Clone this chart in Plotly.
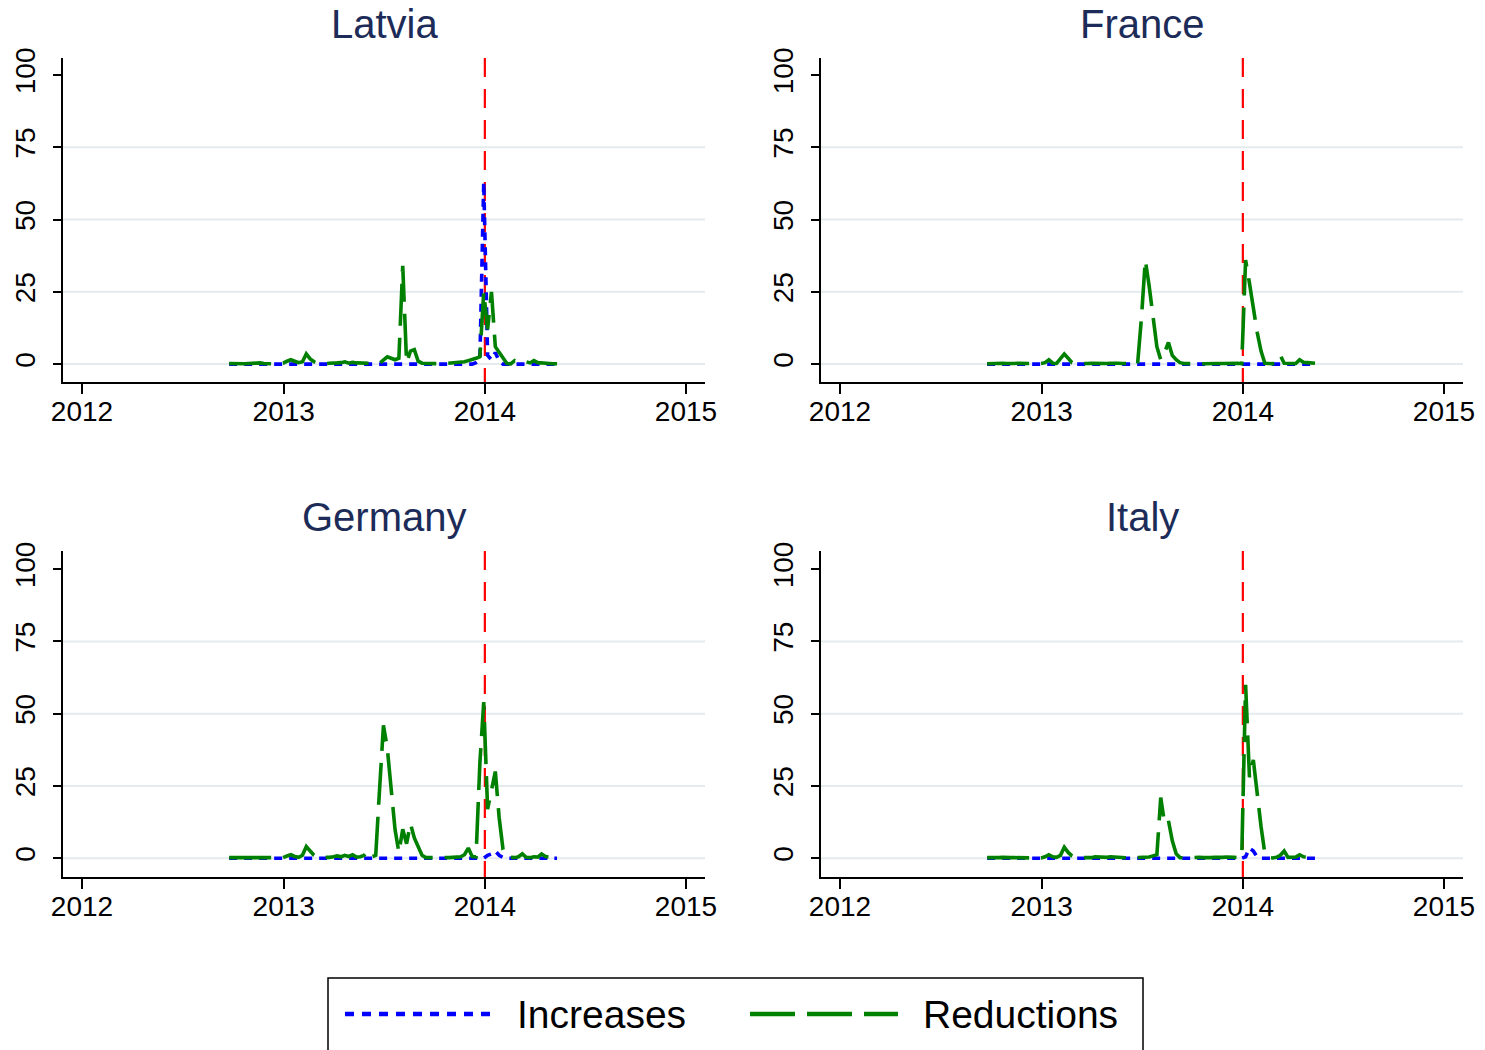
import pandas as pd
import plotly.graph_objects as go

# ---------------- data ----------------
dates = pd.date_range("2012-09-24", periods=86, freq="7D")

countries = ["Latvia", "France", "Germany", "Italy"]

latvia_increases = [
    0, 0, 0, 0, 0, 0, 0, 0, 0, 0,
    0, 0, 0, 0, 0, 0, 0, 0, 0, 0,
    0, 0, 0, 0, 0, 0, 0, 0, 0, 0,
    0, 0, 0, 0, 0, 0, 0, 0, 0, 0,
    0, 0, 0, 0, 0, 0, 0, 0, 0, 0,
    0, 0, 0, 0, 0, 0, 0, 0, 0, 0,
    0, 0, 0, 0, 0.5, 1.5, 63, 3, 1.5, 4,
    1, 0, 0, 0, 0, 0, 0, 0, 0, 0,
    0, 0, 0, 0, 0, 0,
]
latvia_reductions = [
    0.2, 0.1, 0.3, 0.2, 0.1, 0.2, 0.3, 0.2, 0.4, 0.2, 0.1, 0.2, 0.1, 0.2, 0.3,
    1.0, 1.5, 1.0, 0.5, 0.8, 3.5, 1.8, 0.8, 0.2, 0.1, 0.1,
    0.3, 0.2, 0.4, 0.5, 0.8, 0.3, 0.6, 0.4, 0.3, 0.2, 0.4, 0.1, 0.2,
    0.3, 1.5, 2.5, 2.0, 1.5, 2.0, 34, 0.5, 4.5, 5.0, 1.0, 0.3,
    0.2, 0.1, 0.2, 0.1, 0.1, 0.2, 0.3,
    0.3, 0.4, 0.5, 0.8, 1.2, 1.5, 2.0, 2.5,
    25, 12, 25, 6, 4, 2, 0.2, 0.1, 1.2, 0.5,
    0.6, 0.8, 0.4, 1.2, 0.5, 0.3, 0.2, 0.2, 0.1, 0.1,
]

france_increases = [
    0, 0, 0, 0, 0, 0, 0, 0, 0, 0,
    0, 0, 0, 0, 0, 0, 0, 0, 0, 0,
    0, 0, 0, 0, 0, 0, 0, 0, 0, 0,
    0, 0, 0, 0, 0, 0, 0, 0, 0, 0,
    0, 0, 0, 0, 0, 0, 0, 0, 0, 0,
    0, 0, 0, 0, 0, 0, 0, 0, 0, 0,
    0, 0, 0, 0, 0, 0, 0, 0, 0, 0,
    0, 0, 0, 0, 0, 0, 0, 0, 0, 0,
    0, 0, 0, 0, 0, 0,
]
france_reductions = [
    0.1, 0.2, 0.1, 0.2, 0.3, 0.2, 0.1, 0.2, 0.3, 0.2, 0.1, 0.1, 0.2, 0.1, 0.2,
    0.5, 1.5, 0.3, 0.2, 2.0, 3.5, 2.0, 0.5, 0.2, 0.1, 0.2,
    0.2, 0.3, 0.2, 0.4, 0.3, 0.2, 0.3, 0.4, 0.3, 0.2, 0.3, 0.2, 0.1,
    0.1, 16, 36, 27, 16, 6, 1.5, 4, 7.5, 3, 1.5, 0.5,
    0.2, 0.1, 0.1, 0.2, 0.1, 0.1, 0.2,
    0.2, 0.3, 0.2, 0.2, 0.3, 0.2, 0.2, 0.3,
    0.1, 36, 28, 19, 11, 4.5, 0.3, 0.2, 0.1, 0.5,
    3, 0.3, 0.2, 0.3, 0.2, 1.5, 0.6, 0.5, 0.3, 0.3,
]

germany_increases = [
    0, 0, 0, 0, 0, 0, 0, 0, 0, 0,
    0, 0, 0, 0, 0, 0, 0, 0, 0, 0,
    0, 0, 0, 0, 0, 0, 0, 0, 0, 0,
    0, 0, 0, 0, 0, 0, 0, 0, 0, 0,
    0, 0, 0, 0, 0, 0, 0, 0, 0, 0,
    0, 0, 0, 0, 0, 0, 0, 0, 0, 0,
    0, 0, 0, 0, 0, 0, 0, 1.0, 1.5, 2.5,
    1.0, 0.2, 0, 0, 0, 0, 0, 0, 0, 0,
    0, 0, 0, 0, 0, 0,
]
germany_reductions = [
    0.2, 0.2, 0.1, 0.3, 0.2, 0.1, 0.2, 0.3, 0.2, 0.1, 0.2, 0.2, 0.1, 0.3, 0.2,
    0.8, 1.2, 0.6, 0.3, 1.0, 4.0, 2.5, 1.0, 0.3, 0.2, 0.2,
    0.3, 0.5, 0.8, 0.5, 1.0, 0.6, 1.2, 0.4, 0.5, 1.0, 2.5, 0.5, 1.0,
    24, 46, 38, 25, 10, 2, 10, 5, 12, 7, 4, 1,
    0.2, 0.1, 0.2, 0.3, 0.2, 0.1, 0.2,
    0.3, 0.4, 0.5, 1.2, 3.5, 0.6, 0.5, 33,
    54, 17, 24, 30, 14, 3, 0.5, 0.3, 0.2, 0.5,
    1.5, 0.3, 0.2, 0.5, 0.4, 1.5, 0.6, 0.4, 0.3, 0.3,
]

italy_increases = [
    0, 0, 0, 0, 0, 0, 0, 0, 0, 0,
    0, 0, 0, 0, 0, 0, 0, 0, 0, 0,
    0, 0, 0, 0, 0, 0, 0, 0, 0, 0,
    0, 0, 0, 0, 0, 0, 0, 0, 0, 0,
    0, 0, 0, 0, 0, 0, 0, 0, 0, 0,
    0, 0, 0, 0, 0, 0, 0, 0, 0, 0,
    0, 0, 0, 0, 0, 0, 0, 0.5, 3.5, 2.5,
    0.5, 0, 0, 0, 0, 0, 0, 0, 0, 0,
    0, 0, 0, 0, 0, 0,
]
italy_reductions = [
    0.2, 0.1, 0.2, 0.2, 0.3, 0.1, 0.2, 0.2, 0.1, 0.3, 0.2, 0.1, 0.2, 0.2, 0.1,
    0.5, 1.2, 0.5, 0.3, 1.0, 3.8, 2.0, 0.8, 0.2, 0.2, 0.1,
    0.3, 0.2, 0.5, 0.4, 0.6, 0.3, 0.5, 0.4, 0.2, 0.3, 0.2, 0.1, 0.2,
    0.2, 0.3, 0.2, 0.4, 0.8, 1.2, 21, 12, 13, 6, 1.5, 0.2,
    0.1, 0.2, 0.1, 0.2, 0.3, 0.2, 0.1,
    0.2, 0.3, 0.2, 0.3, 0.4, 0.2, 0.3, 0.2,
    0.5, 60, 28, 34, 22, 11, 1.5, 0.2, 0.1, 0.3,
    1.0, 2.5, 0.3, 0.2, 0.4, 1.2, 0.5, 0.4, 0.3, 0.2,
]

series_names = ["Increases", "Reductions"]
x_tick_dates = ["2012-01-01", "2013-01-01", "2014-01-01", "2015-01-01"]
x_tick_labels = ["2012", "2013", "2014", "2015"]
y_tick_values = [0, 25, 50, 75, 100]
grid_values = [0, 25, 50, 75]
event_date = "2014-01-01"

increases = [latvia_increases, france_increases, germany_increases, italy_increases]
reductions = [latvia_reductions, france_reductions, germany_reductions, italy_reductions]

# ---------------- layout helpers ----------------
W, H = 1485, 1050
FONT = "Liberation Sans, Arial, Helvetica, sans-serif"
TITLE_COLOR = "#1c2b58"
BLUE = "#0000ff"
GREEN = "#008000"
RED = "#ff0000"
GRID = "#e3ebee"


def fx(p):
    return p / W


def fy(p):
    return 1 - p / H


# pixel boxes of the four panels: (x0, x1), (ytop, ybottom), y range
boxes = [
    ((63, 705), (58, 382), [-6.2, 105.9]),
    ((821, 1463), (58, 382), [-6.2, 105.9]),
    ((63, 705), (551, 877), [-6.5, 106.3]),
    ((821, 1463), (551, 877), [-6.5, 106.3]),
]

fig = go.Figure()
layout = dict(
    template="none",
    width=W, height=H, autosize=False,
    margin=dict(l=0, r=0, t=0, b=0, pad=0, autoexpand=False),
    paper_bgcolor="white", plot_bgcolor="white",
    showlegend=False,
    font=dict(family=FONT, color="black"),
)
shapes = []
annotations = []

for i, name in enumerate(countries):
    n = i + 1
    xa = "x" if n == 1 else f"x{n}"
    ya = "y" if n == 1 else f"y{n}"
    (x0, x1), (yt, yb), yr = boxes[i]

    fig.add_trace(go.Scatter(
        x=dates, y=increases[i], mode="lines", name=series_names[0],
        line=dict(color=BLUE, width=3.6, dash="8px,7px"),
        xaxis=xa, yaxis=ya, showlegend=False,
    ))
    fig.add_trace(go.Scatter(
        x=dates, y=reductions[i], mode="lines", name=series_names[1],
        line=dict(color=GREEN, width=3.6, dash="42px,12px"),
        xaxis=xa, yaxis=ya, showlegend=False,
    ))

    layout["xaxis" if n == 1 else f"xaxis{n}"] = dict(
        domain=[fx(x0), fx(x1)], anchor=ya, type="date", automargin=False,
        range=["2011-11-27 12:00", "2015-02-04 12:00"],
        tickmode="array", tickvals=x_tick_dates, ticktext=x_tick_labels,
        ticks="outside", ticklen=10, tickwidth=1.5, tickcolor="black",
        ticklabelstandoff=-6,
        showline=True, linecolor="black", linewidth=1.5,
        showgrid=False, zeroline=False,
        tickfont=dict(size=28, family=FONT, color="black"),
    )
    layout["yaxis" if n == 1 else f"yaxis{n}"] = dict(
        domain=[fy(yb), fy(yt)], anchor=xa, range=yr, automargin=False,
        tickmode="array", tickvals=y_tick_values,
        tickangle=-90,
        ticks="outside", ticklen=8, tickwidth=1.5, tickcolor="black",
        ticklabelstandoff=7,
        showline=True, linecolor="black", linewidth=1.5,
        showgrid=False, zeroline=False,
        tickfont=dict(size=28, family=FONT, color="black"),
    )

    for g in grid_values:
        shapes.append(dict(
            type="line", xref=f"{xa} domain", yref=ya,
            x0=0, x1=1, y0=g, y1=g, layer="below",
            line=dict(color=GRID, width=2),
        ))
    shapes.append(dict(
        type="line", xref=xa, yref=f"{ya} domain",
        x0=event_date, x1=event_date, y0=1, y1=0, layer="below",
        line=dict(color=RED, width=2.2, dash="19px,12px"),
    ))

    annotations.append(dict(
        text=name, xref="paper", yref="paper",
        x=fx((x0 + x1) / 2), y=fy(yt - 34), xanchor="center", yanchor="middle",
        showarrow=False, font=dict(size=40, family=FONT, color=TITLE_COLOR),
    ))

# ---------------- legend (drawn box) ----------------
shapes.append(dict(
    type="rect", xref="paper", yref="paper",
    x0=fx(328), x1=fx(1143), y0=fy(1056), y1=fy(978),
    line=dict(color="black", width=1.5), fillcolor="white",
))
shapes.append(dict(
    type="line", xref="paper", yref="paper",
    x0=fx(345), x1=fx(492), y0=fy(1014), y1=fy(1014),
    line=dict(color=BLUE, width=4.5, dash="9px,8px"),
))
shapes.append(dict(
    type="line", xref="paper", yref="paper",
    x0=fx(750), x1=fx(898), y0=fy(1014), y1=fy(1014),
    line=dict(color=GREEN, width=4.5, dash="45px,12px"),
))
annotations.append(dict(
    text=series_names[0], xref="paper", yref="paper",
    x=fx(515), y=fy(1014), xanchor="left", yanchor="middle",
    showarrow=False, font=dict(size=39, family=FONT, color="black"),
))
annotations.append(dict(
    text=series_names[1], xref="paper", yref="paper",
    x=fx(921), y=fy(1014), xanchor="left", yanchor="middle",
    showarrow=False, font=dict(size=39, family=FONT, color="black"),
))

layout["shapes"] = shapes
layout["annotations"] = annotations
fig.update_layout(**layout)

fig.write_html(
    "out.html",
    config={"displayModeBar": False},
    post_script="document.body.style.margin='0';document.body.style.overflow='hidden';",
)
